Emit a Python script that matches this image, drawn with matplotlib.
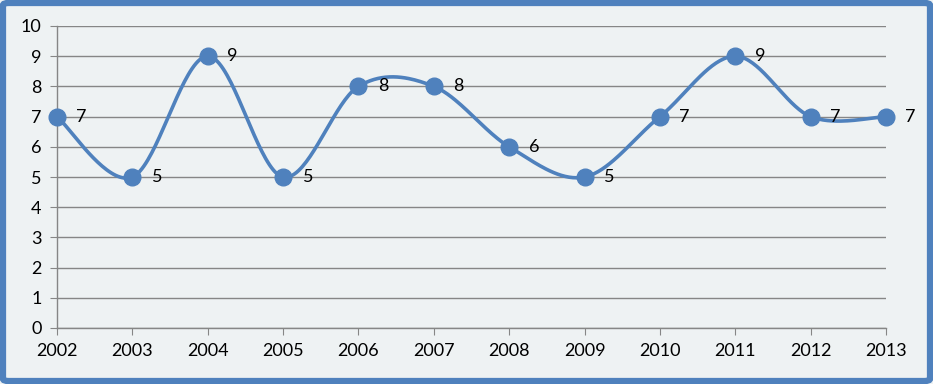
import numpy as np
import matplotlib.pyplot as plt
from matplotlib.patches import FancyBboxPatch

years = ["2002", "2003", "2004", "2005", "2006", "2007",
         "2008", "2009", "2010", "2011", "2012", "2013"]
values = [7, 5, 9, 5, 8, 8, 6, 5, 7, 9, 7, 7]
yticks = [0, 1, 2, 3, 4, 5, 6, 7, 8, 9, 10]

BLUE = "#4F81BD"
GRID = "#868686"
BG = "#EEF2F3"

plt.rcParams["font.family"] = ["Lato", "DejaVu Sans"]


def smooth(xs, ys, n=40):
    # bezier segments like the office "smoothed line"
    px = np.concatenate([[xs[0]], xs, [xs[-1]]])
    py = np.concatenate([[ys[0]], ys, [ys[-1]]])
    outx, outy = [], []
    t = np.linspace(0, 1, n)
    for i in range(1, len(px) - 2):
        x0, y0 = px[i], py[i]
        x3, y3 = px[i + 1], py[i + 1]
        x1 = x0 + (px[i + 1] - px[i - 1]) / 6
        y1 = y0 + (py[i + 1] - py[i - 1]) / 6
        x2 = x3 - (px[i + 2] - px[i]) / 6
        y2 = y3 - (py[i + 2] - py[i]) / 6
        bx = (1 - t) ** 3 * x0 + 3 * (1 - t) ** 2 * t * x1 + 3 * (1 - t) * t ** 2 * x2 + t ** 3 * x3
        by = (1 - t) ** 3 * y0 + 3 * (1 - t) ** 2 * t * y1 + 3 * (1 - t) * t ** 2 * y2 + t ** 3 * y3
        outx.extend(bx)
        outy.extend(by)
    return np.array(outx), np.array(outy)


fig = plt.figure(figsize=(9.33, 3.84), dpi=100)
fig.patch.set_facecolor(BG)
ax = fig.add_axes([57 / 933, 56 / 384, 829 / 933, 302 / 384])
ax.set_facecolor(BG)

x = np.arange(len(years), dtype=float)
y = np.array(values, dtype=float)
sx, sy = smooth(x, y)
ax.plot(sx, sy, color=BLUE, lw=2.6, solid_capstyle="round", zorder=3, clip_on=False)
ax.plot(x, y, "o", ms=12, color=BLUE, mec=BLUE, zorder=4, clip_on=False)

for xi, yi in zip(x, values):
    ax.annotate(str(yi), (xi, yi), xytext=(14, 0), textcoords="offset points",
                va="center", ha="left", fontsize=13, color="black", zorder=5)

ax.set_xlim(0, len(years) - 1)
ax.set_ylim(0, 10)
ax.set_xticks(x)
ax.set_xticklabels(years)
ax.set_yticks(yticks)
ax.tick_params(axis="both", length=5, color=GRID, labelsize=13, pad=6)
ax.yaxis.grid(True, color=GRID, lw=1)
ax.set_axisbelow(True)
for side in ["top", "right"]:
    ax.spines[side].set_visible(False)
for side in ["left", "bottom"]:
    ax.spines[side].set_color(GRID)
    ax.spines[side].set_linewidth(1)

frame = FancyBboxPatch((3 / 933, 3 / 384), 927 / 933, 378 / 384,
                       boxstyle="round,pad=0,rounding_size=0.006",
                       transform=fig.transFigure, fill=False,
                       edgecolor=BLUE, lw=4.5)
fig.patches.append(frame)

fig.savefig("out.png", dpi=100, facecolor=BG)
